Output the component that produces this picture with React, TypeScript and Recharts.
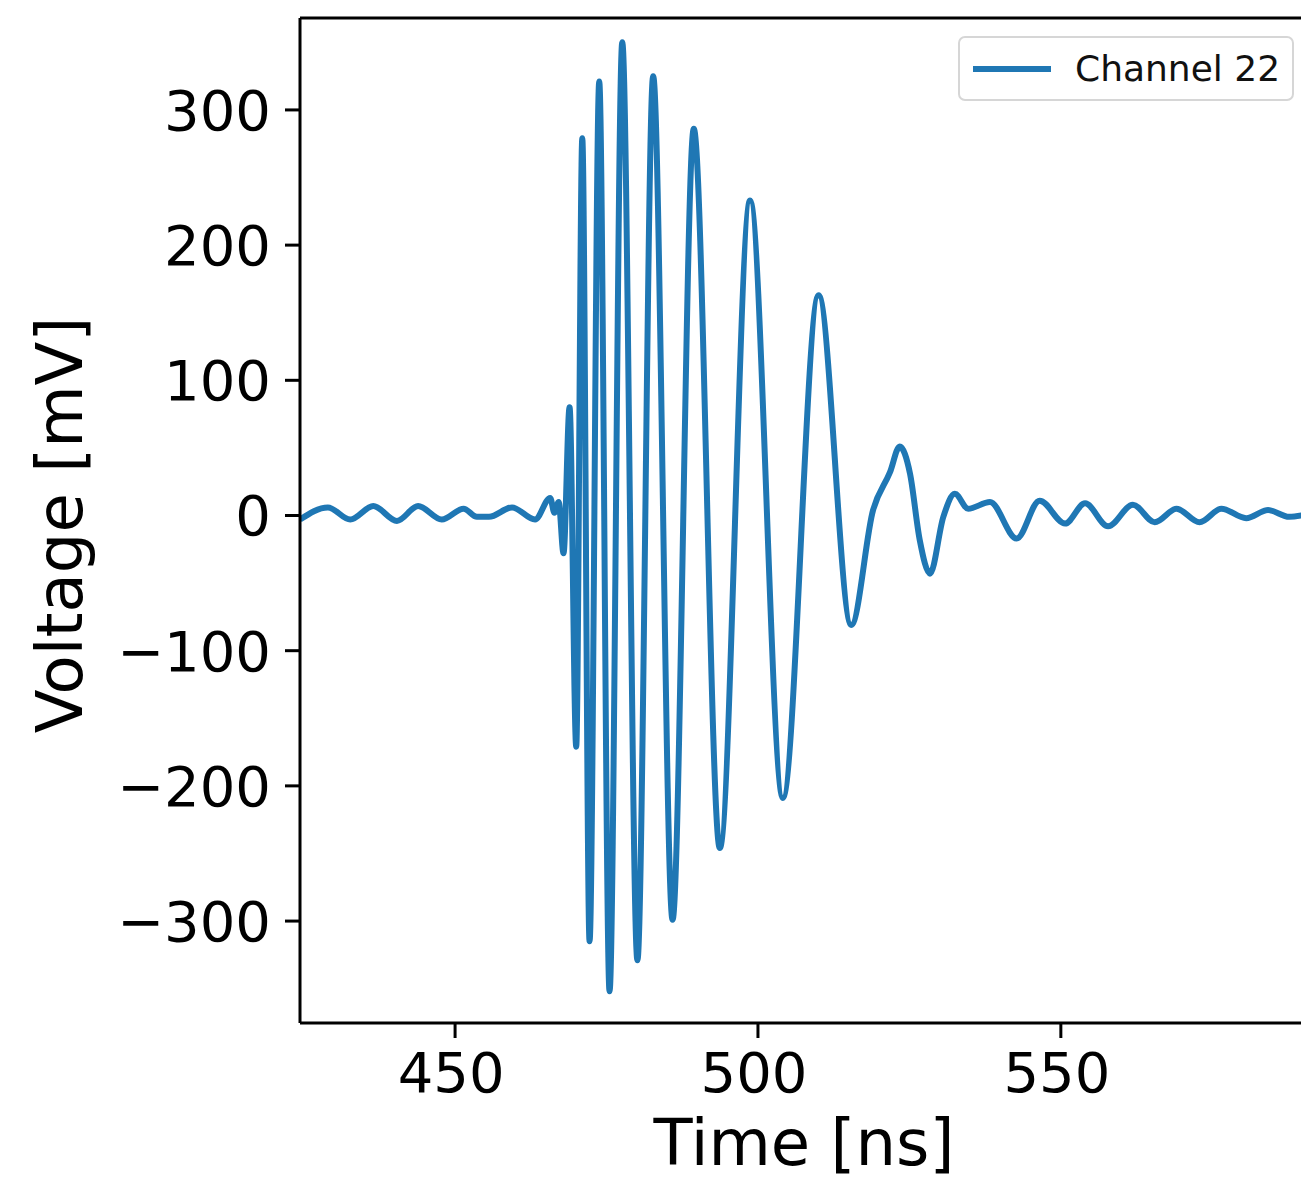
import React from 'react';
import { LineChart, Line, XAxis, YAxis, Legend, ReferenceLine } from 'recharts';

const seriesName = 'Channel 22';
const timesNs = [
  424.4, 429.0, 432.7, 436.5, 440.4, 443.9, 447.8, 451.4, 453.6, 455.6, 459.4, 463.2,
  465.7, 466.4, 467.1, 467.9, 468.9, 470.0, 471.0, 472.2, 473.8, 475.5, 477.6, 480.1,
  482.7, 485.9, 489.4, 493.7, 498.7, 504.1, 510.0, 515.4, 519.0, 521.8, 523.4, 525.1,
  526.7, 528.4, 530.6, 532.5, 534.7, 538.3, 542.7, 546.5, 550.7, 554.0, 557.8, 561.9,
  565.5, 569.1, 572.9, 576.5, 580.6, 584.2, 587.7, 590.8,
];
const voltagesMv = [
  -3, 6, -3, 7, -4, 7, -3, 5, -1, -1, 6, -3,
  13, 2, 10, -28, 80, -171, 279, -315, 321, -352, 350, -329,
  325, -299, 286, -246, 233, -209, 163, -81, 4, 32, 51, 31,
  -18, -43, -1, 16, 5, 10, -17, 11, -6, 9, -8, 8,
  -5, 5, -5, 5, -2, 4, -1, 1,
];
const xTicks = [450, 500, 550];
const yTicks = [-300, -200, -100, 0, 100, 200, 300];
const xDomain = [424.4, 590.8];
const yDomain = [-375.4, 368];

const data = timesNs.map((t, i) => ({ t, v: voltagesMv[i] }));

const FONT = '"DejaVu Sans", Verdana, sans-serif';
const BLUE = '#1f77b4';

const fmtY = (v: number) => (v < 0 ? '\u2212' + Math.abs(v) : String(v));

const LegendBox = () => (
  <div
    style={{
      boxSizing: 'border-box',
      width: 336,
      height: 65,
      border: '2px solid #d6d6d6',
      borderRadius: 7,
      background: 'rgba(255,255,255,0.85)',
      display: 'flex',
      alignItems: 'center',
      fontFamily: FONT,
      fontSize: 36,
      color: '#111',
      paddingLeft: 13,
    }}
  >
    <svg width={78} height={10} style={{ marginRight: 24 }}>
      <line x1={0} y1={5} x2={78} y2={5} stroke={BLUE} strokeWidth={6} />
    </svg>
    <span>{seriesName}</span>
  </div>
);

export default function App() {
  return (
    <div style={{ position: 'absolute', left: 0, top: 0, width: 1301, height: 1178, overflow: 'hidden', background: '#fff' }}>
      <LineChart width={1320} height={1178} data={data} margin={{ top: 18, right: 12, bottom: 0, left: 0 }}>
        <XAxis
          dataKey="t"
          type="number"
          domain={xDomain}
          allowDataOverflow
          ticks={xTicks}
          height={155}
          tickSize={15}
          tickMargin={14}
          axisLine={{ stroke: '#000', strokeWidth: 3 }}
          tickLine={{ stroke: '#000', strokeWidth: 3 }}
          tick={{ fill: '#000', fontSize: 56, fontFamily: FONT, dx: -4 }}
          label={() => (
            <text x={804} y={1165} textAnchor="middle" fontSize={64} fontFamily={FONT} fill="#000">
              Time [ns]
            </text>
          )}
        />
        <YAxis
          type="number"
          domain={yDomain}
          allowDataOverflow
          ticks={yTicks}
          width={300}
          tickSize={15}
          tickMargin={14}
          tickFormatter={fmtY}
          axisLine={{ stroke: '#000', strokeWidth: 3 }}
          tickLine={{ stroke: '#000', strokeWidth: 3 }}
          tick={{ fill: '#000', fontSize: 56, fontFamily: FONT }}
          label={() => (
            <text
              x={0}
              y={0}
              transform="translate(82,525) rotate(-90)"
              textAnchor="middle"
              fontSize={64}
              fontFamily={FONT}
              fill="#000"
            >
              Voltage [mV]
            </text>
          )}
        />
        <ReferenceLine y={368} stroke="#000" strokeWidth={3} />
        <Line
          type="monotone"
          dataKey="v"
          name={seriesName}
          stroke={BLUE}
          strokeWidth={6}
          dot={false}
          activeDot={false}
          isAnimationActive={false}
        />
        <Legend
          layout="horizontal"
          verticalAlign="middle"
          align="center"
          wrapperStyle={{ left: 958, top: 36, width: 336, height: 65 }}
          content={() => <LegendBox />}
        />
      </LineChart>
    </div>
  );
}
